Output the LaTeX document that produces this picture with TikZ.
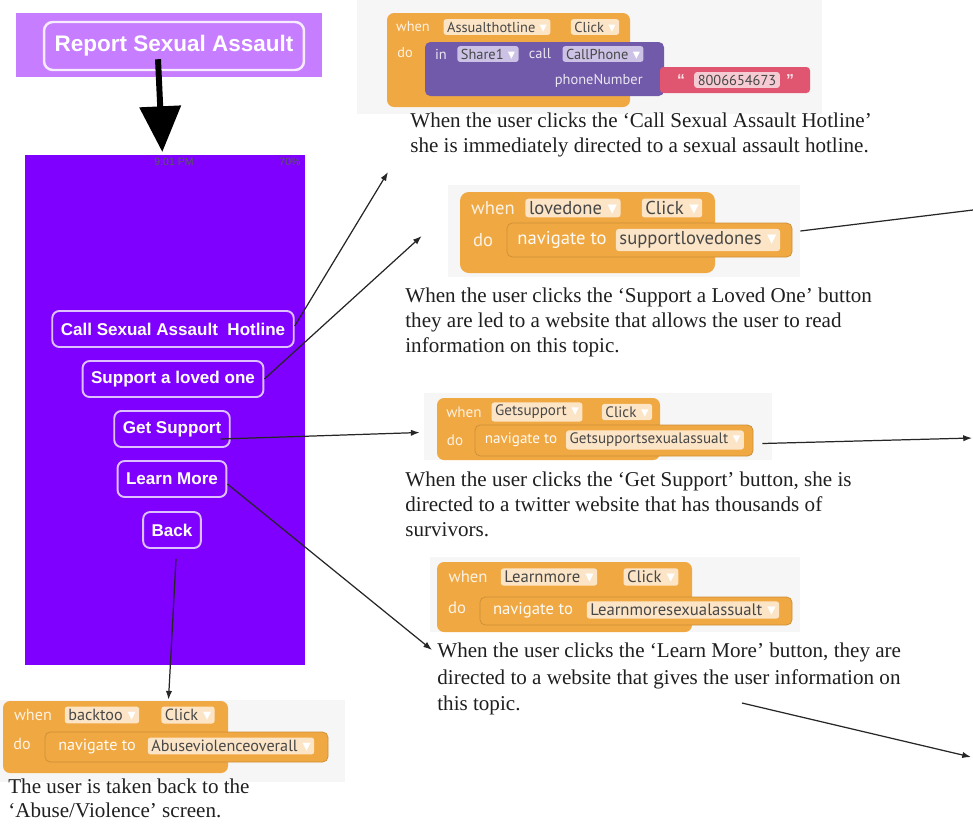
\documentclass[tikz,border=0pt]{standalone}
\usepackage{fontspec}
\setmainfont{Liberation Serif}
\setsansfont{Liberation Sans}
\newfontfamily\blockfont{PT Sans}
\newfontfamily\symfont{DejaVu Sans}
\usetikzlibrary{positioning,arrows.meta,fit,calc}

\definecolor{phoneviolet}{RGB}{127,0,255}
\definecolor{headviolet}{RGB}{199,125,255}
\definecolor{btnedge}{RGB}{222,192,255}
\definecolor{blockorange}{RGB}{240,168,66}
\definecolor{chipcream}{RGB}{252,229,198}
\definecolor{callpurple}{RGB}{114,90,170}
\definecolor{chiplav}{RGB}{204,194,230}
\definecolor{textpink}{RGB}{224,86,112}
\definecolor{chippink}{RGB}{246,204,212}
\definecolor{bggrey}{RGB}{246,246,246}

\newcommand{\ddarrow}{\hspace{0.3em}{\symfont\color{white}▾}}

\tikzset{
  headbtn/.style={draw=white!85!headviolet, line width=1.4pt, rounded corners=5pt,
    text=white, font=\sffamily\bfseries\fontsize{12.8}{14}\selectfont,
    minimum width=5.2cm, minimum height=0.96cm},
  phonebody/.style={fill=phoneviolet, minimum width=5.6cm, minimum height=10.2cm,
    inner sep=0pt, anchor=north west},
  status/.style={inner sep=0pt, text=black!65, font=\sffamily\fontsize{6}{7}\selectfont},
  appbtn/.style={draw=btnedge, line width=1.1pt, rounded corners=4pt, text=white,
    font=\sffamily\bfseries\fontsize{9.7}{11}\selectfont,
    inner xsep=0.17cm, minimum height=0.72cm},
  blockbg/.style={fill=bggrey, inner sep=0pt},
  navblock/.style={fill=blockorange, draw=blockorange!85!black, line width=0.4pt, rounded corners=3pt},
  kw/.style={inner sep=0pt, text=white, text opacity=0.85},
  chip/.style={fill=chipcream, text=black!72, rounded corners=1.5pt, inner xsep=2pt, inner ysep=1.5pt},
  pchip/.style={chip, fill=chiplav},
  kchip/.style={chip, fill=chippink},
  caption/.style={anchor=north west, align=left, inner sep=0pt, text=black!88,
    font=\fontsize{12}{14.2}\selectfont},
  conn/.style={-{Latex[length=5pt,width=3.6pt]}, line width=0.7pt, black!85},
  bigarrow/.style={-{Triangle[length=26pt,width=23pt]}, line width=3.4pt, black}
}

\begin{document}
\begin{tikzpicture}[x=0.02cm, y=-0.02cm]
    \useasboundingbox (0,0) rectangle (973,823);

    % En-tête
    \fill[headviolet] (16,13) rectangle (322,77);
    \node[headbtn] (report) at (174,46) {Report Sexual Assault};

    % Téléphone
    \node[phonebody] (phone) at (25,155) {};
    \node[status] (clock) at (174,162) {9:01 PM};
    \node[status] (battery) at (290,162) {70\%};

    % Boutons
    \node[appbtn] (hotline) at (173,329) {Call Sexual Assault\ \ Hotline};
    \node[appbtn] (loved) at (173,379) {Support a loved one};
    \node[appbtn] (getsup) at (172,429) {Get Support};
    \node[appbtn] (learn) at (172,479) {Learn More};
    \node[appbtn] (back) at (172,530) {Back};

    \draw[bigarrow] ([shift={(-16,-12)}]report.south) -- ([shift={(-3,-3)}]phone.north);

    % Bloc 1 : ligne d'urgence
    \node[blockbg, fit={(357,0) (822,114)}] (blk1) {};
    \fill[blockorange, rounded corners=4pt] (387,13) rectangle (630,107);
    \fill[callpurple, rounded corners=3pt] (425,42) rectangle (664,96);
    \fill[textpink, rounded corners=2pt] (660,67) rectangle (810,93);
    \begin{scope}[font=\blockfont\fontsize{8.2}{9.5}\selectfont]
        \node[kw] (when1) at (413,27) {when};
        \node[chip] (evt1) at (497,27) {Assualthotline\ddarrow};
        \node[chip] (click1) at (595,27) {Click\ddarrow};
        \node[kw] (do1) at (405,53) {do};
        \node[kw] (in1) at (441,54) {in};
        \node[pchip] (share1) at (488,54) {Share1\ddarrow};
        \node[kw] (call1) at (540,54) {call};
        \node[pchip] (callph) at (603,54) {CallPhone\ddarrow};
        \node[kw, anchor=east] (phnum) at (643,81) {phoneNumber};
        \node[kw, font=\sffamily\bfseries\small] (lq) at (681,80) {“};
        \node[kchip] (number) at (737,80) {8006654673};
        \node[kw, font=\sffamily\bfseries\small] (rq) at (790,80) {”};
    \end{scope}

    % Bloc 2 : proche
    \node[blockbg, fit={(448,185) (800,277)}] (blk2) {};
    \fill[blockorange, rounded corners=5pt] (460,192) rectangle (715,273);
    \filldraw[navblock] (507,223) rectangle (792,257);
    \begin{scope}[font=\blockfont\fontsize{10.6}{12}\selectfont]
        \node[kw] (when2) at (493,208) {when};
        \node[chip] (evt2) at (573,208) {lovedone\ddarrow};
        \node[chip] (click2) at (672,208) {Click\ddarrow};
        \node[kw] (do2) at (483,240) {do};
        \node[kw, text opacity=0.95] (nav2) at (562,240) {navigate to};
        \node[chip] (dest2) at (698,240) {supportlovedones\ddarrow};
    \end{scope}

    % Bloc 3 : soutien
    \node[blockbg, fit={(424,393) (772,460)}] (blk3) {};
    \fill[blockorange, rounded corners=4pt] (437,398) rectangle (660,460);
    \filldraw[navblock] (475,425) rectangle (753,456);
    \begin{scope}[font=\blockfont\fontsize{8.6}{10}\selectfont]
        \node[kw] (when3) at (464,412) {when};
        \node[chip] (evt3) at (537,412) {Getsupport\ddarrow};
        \node[chip] (click3) at (627,412) {Click\ddarrow};
        \node[kw] (do3) at (455,440) {do};
        \node[kw, text opacity=0.95] (nav3) at (521,440) {navigate to};
        \node[chip] (dest3) at (655,440) {Getsupportsexualassualt\ddarrow};
    \end{scope}

    % Bloc 4 : en savoir plus
    \node[blockbg, fit={(430,557) (800,632)}] (blk4) {};
    \fill[blockorange, rounded corners=4pt] (437,562) rectangle (692,632);
    \filldraw[navblock] (480,597) rectangle (792,625);
    \begin{scope}[font=\blockfont\fontsize{9.5}{11}\selectfont]
        \node[kw] (when4) at (468,577) {when};
        \node[chip] (evt4) at (549,577) {Learnmore\ddarrow};
        \node[chip] (click4) at (651,577) {Click\ddarrow};
        \node[kw] (do4) at (457,608) {do};
        \node[kw, text opacity=0.95] (nav4) at (533,610) {navigate to};
        \node[chip] (dest4) at (683,610) {Learnmoresexualassualt\ddarrow};
    \end{scope}

    % Bloc 5 : retour
    \node[blockbg, fit={(0,700) (345,782)}] (blk5) {};
    \fill[blockorange, rounded corners=4pt] (3,701) rectangle (228,773);
    \filldraw[navblock] (45,732) rectangle (328,762);
    \begin{scope}[font=\blockfont\fontsize{9.2}{10.5}\selectfont]
        \node[kw] (when5) at (33,715) {when};
        \node[chip] (evt5) at (102,715) {backtoo\ddarrow};
        \node[chip] (click5) at (188,715) {Click\ddarrow};
        \node[kw] (do5) at (22,744) {do};
        \node[kw, text opacity=0.95] (nav5) at (97,746) {navigate to};
        \node[chip] (dest5) at (231,746) {Abuseviolenceoverall\ddarrow};
    \end{scope}

    % Légendes
    \node[caption] (cap1) at (410,113) {When the user clicks the ‘Call Sexual Assault Hotline’\\she is immediately directed to a sexual assault hotline.};
    \node[caption] (cap2) at (405,288) {When the user clicks the ‘Support a Loved One’ button\\they are led to a website that allows the user to read\\information on this topic.};
    \node[caption] (cap3) at (405,472) {When the user clicks the ‘Get Support’ button, she is\\directed to a twitter website that has thousands of\\survivors.};
    \node[caption, font=\fontsize{12}{15}\selectfont] (cap4) at (437,643) {When the user clicks the ‘Learn More’ button, they are\\directed to a website that gives the user information on\\this topic.};
    \node[caption] (cap5) at (8,778) {The user is taken back to the\\‘Abuse/Violence’ screen.};

    % Flèches
    \coordinate (edge2) at (973,210);
    \coordinate (edge3) at (972,438);
    \coordinate (edge4) at (971,757);
    \draw[conn] ([shift={(0,-3)}]hotline.east) -- ([shift={(-22,59)}]cap1.north west);
    \draw[conn] (loved.east) -- ([shift={(-26,5)}]blk2.west);
    \draw[line width=0.7pt, black!85] (blk2.east) -- (edge2);
    \draw[conn] ([shift={(-10,10)}]getsup.east) -- ([shift={(-4,6)}]blk3.west);
    \draw[conn] ([shift={(-10,17)}]blk3.east) -- (edge3);
    \draw[conn] ([shift={(0,5)}]learn.east) -- ([shift={(-5,7)}]cap4.north west);
    \draw[conn] ([shift={(305,60)}]cap4.north west) -- (edge4);
    \draw[conn] ([shift={(4,10)}]back.south) -- ([shift={(-4,0)}]blk5.north);
\end{tikzpicture}
\end{document}
